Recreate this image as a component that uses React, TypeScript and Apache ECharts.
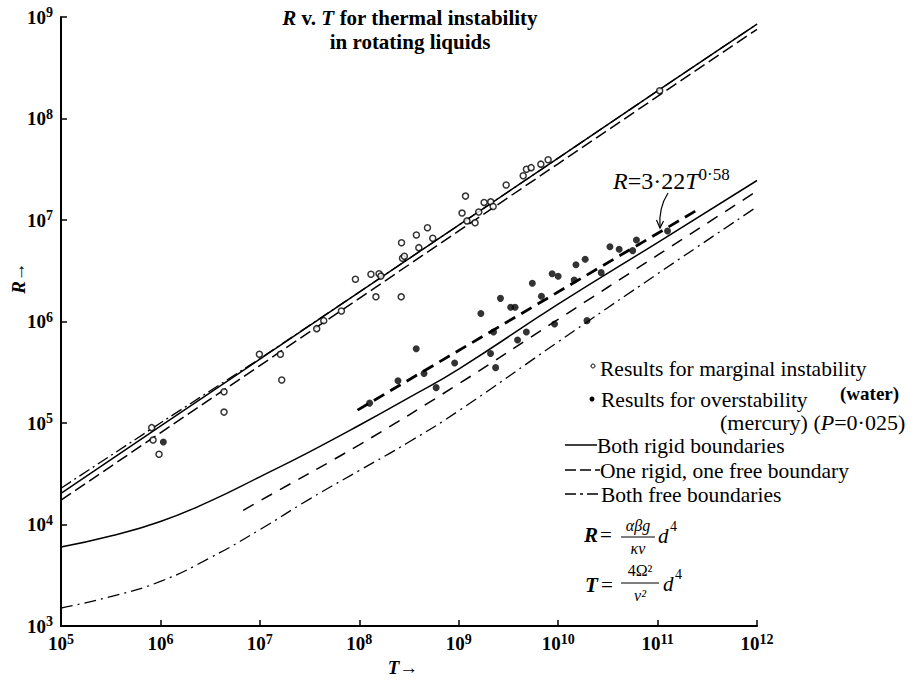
import React, { useEffect, useRef } from 'react';
import * as echarts from 'echarts';

const SERIF = 'Liberation Serif';

// ---- Theory curves ----
// Marginal instability (upper group)
const upperT = [1e5, 1e6, 1e7, 1e8, 1e9, 1e10, 1e11, 1e12];
const upperRigidR = [2.03e4, 9.3e4, 4.25e5, 1.95e6, 8.9e6, 4.07e7, 1.87e8, 8.53e8];
const upperOneFreeR = [1.74e4, 8.0e4, 3.68e5, 1.69e6, 7.8e6, 3.58e7, 1.65e8, 7.57e8];
const upperFreeR = [2.28e4, 1.0e5, 4.3e5, 1.95e6, 8.9e6, 4.07e7, 1.87e8, 8.53e8];

// Overstability (lower group)
const lowerRigidT = [1e5, 3.16e5, 1e6, 3.16e6, 1e7, 3.16e7, 1e8, 3.16e8, 1e9, 1e10, 1e11, 1e12];
const lowerRigidR = [6.0e3, 7.7e3, 1.07e4, 1.7e4, 2.95e4, 5.2e4, 9.5e4, 1.78e5, 3.4e5, 1.48e6, 6.0e6, 2.45e7];
const lowerOneFreeT = [6.8e6, 1e7, 1e8, 1e9, 1e10, 1e11, 1e12];
const lowerOneFreeR = [1.38e4, 1.71e4, 6.1e4, 2.43e5, 1.05e6, 4.5e6, 1.93e7];
const lowerFreeT = [1e5, 3.16e5, 1e6, 3.16e6, 1e7, 3.16e7, 1e8, 3.16e8, 1e9, 1e10, 1e11, 1e12];
const lowerFreeR = [1.5e3, 1.95e3, 2.75e3, 4.7e3, 8.9e3, 1.78e4, 3.4e4, 6.5e4, 1.32e5, 6.3e5, 2.95e6, 1.35e7];

const fitT = [9.6e7, 2.56e11];
const fitR = [1.34e5, 1.27e7];

// ---- Experimental results ----
const marginalT = [8.17e5, 8.43e5, 9.68e5, 4.36e6, 4.36e6, 9.89e6, 1.61e7, 1.66e7, 3.73e7, 4.39e7,
  6.61e7, 9.14e7, 1.31e8, 1.47e8, 1.58e8, 1.65e8, 2.64e8, 2.66e8, 2.72e8, 2.84e8,
  3.75e8, 3.97e8, 4.85e8, 5.48e8, 1.08e9, 1.17e9, 1.21e9, 1.46e9, 1.59e9, 1.80e9,
  2.10e9, 2.22e9, 3.0e9, 4.45e9, 4.8e9, 5.35e9, 6.7e9, 7.93e9, 1.05e11];
const marginalR = [9.0e4, 6.8e4, 4.92e4, 2.03e5, 1.28e5, 4.75e5, 4.75e5, 2.65e5, 8.5e5, 1.02e6,
  1.27e6, 2.61e6, 2.92e6, 1.75e6, 2.95e6, 2.8e6, 1.75e6, 5.97e6, 4.2e6, 4.4e6,
  7.12e6, 5.34e6, 8.4e6, 6.6e6, 1.17e7, 1.72e7, 9.8e6, 9.4e6, 1.2e7, 1.49e7,
  1.51e7, 1.36e7, 2.21e7, 2.73e7, 3.16e7, 3.28e7, 3.55e7, 3.92e7, 1.88e8];

const overT = [1.07e6, 1.27e8, 2.45e8, 3.74e8, 4.48e8, 5.93e8, 9.1e8, 1.67e9, 2.09e9, 2.24e9,
  2.35e9, 2.63e9, 3.33e9, 3.69e9, 3.91e9, 4.79e9, 5.5e9, 6.79e9, 8.7e9, 1.0e10,
  9.2e9, 1.45e10, 1.51e10, 1.87e10, 1.95e10, 2.71e10, 3.32e10, 4.11e10, 5.62e10, 6.13e10, 1.26e11];
const overR = [6.5e4, 1.57e5, 2.61e5, 5.38e5, 3.07e5, 2.23e5, 3.9e5, 1.2e6, 4.84e5, 7.88e5,
  3.51e5, 1.69e6, 1.38e6, 1.38e6, 6.58e5, 7.88e5, 2.38e6, 1.77e6, 2.95e6, 2.79e6,
  9.45e5, 2.56e6, 3.62e6, 4.11e6, 1.02e6, 3.03e6, 5.46e6, 5.15e6, 4.99e6, 6.35e6, 7.8e6];

// Axis ranges (decades, labelled 10^n)
const xMin = 1e5, xMax = 1e12, yMin = 1e3, yMax = 1e9;

const zip = (xs: number[], ys: number[]) => xs.map((x, i) => [x, ys[i]]);

export default function App() {
  const ref = useRef<HTMLDivElement>(null);

  useEffect(() => {
    const chart = echarts.init(ref.current!, null, { renderer: 'svg' });

    const line = (name: string, xs: number[], ys: number[], type: any, width = 1.5, smooth: any = false) => ({
      type: 'line', name, data: zip(xs, ys), symbol: 'none', showSymbol: false, smooth,
      lineStyle: { color: '#000', width, type, cap: 'butt' }, silent: true, z: 2,
    });

    const tickRich = {
      b: { fontFamily: SERIF, fontSize: 19, fontWeight: 'bold', color: '#000' },
      s: { fontFamily: SERIF, fontSize: 14, fontWeight: 'bold', color: '#000', padding: [0, 0, 9, 0] },
    };
    const fmt = (v: number) => `{b|10}{s|${Math.round(Math.log10(v))}}`;

    const tok = (size: number, weight = 'normal', style = 'normal', extra: any = {}) => ({
      fontFamily: SERIF, fontSize: size, fontWeight: weight, fontStyle: style, fill: '#000', color: '#000', ...extra,
    });
    const rtext = (x: number, y: number, content: string, rich: any, extra: any = {}) => ({
      type: 'text', x, y, silent: true,
      style: { text: content, rich, textVerticalAlign: 'middle', fontFamily: SERIF, ...extra },
    });
    const txt = (text: string, x: number, y: number, size = 21.5, weight = 'normal', style = 'normal', align = 'left') =>
      rtext(x, y, `{t|${text}}`, { t: tok(size, weight, style) }, { textAlign: align });

    const hline = (x1: number, x2: number, y: number, dash: any = null, w = 1.5) => ({
      type: 'line', silent: true,
      shape: { x1, y1: y, x2, y2: y },
      style: { stroke: '#000', lineWidth: w, lineDash: dash },
    });

    const option: any = {
      animation: false,
      backgroundColor: '#fff',
      textStyle: { fontFamily: SERIF },
      grid: { left: 61, top: 17, width: 696, height: 609, containLabel: false },
      xAxis: {
        type: 'log', logBase: 10, min: xMin, max: xMax,
        axisLine: { show: true, lineStyle: { color: '#000', width: 2 } },
        axisTick: { show: true, inside: true, length: 6, lineStyle: { color: '#000', width: 1.5 } },
        splitLine: { show: false },
        minorTick: { show: false },
        axisLabel: { formatter: fmt, rich: tickRich, margin: 6, showMinLabel: true, showMaxLabel: true },
      },
      yAxis: {
        type: 'log', logBase: 10, min: yMin, max: yMax,
        axisLine: { show: true, lineStyle: { color: '#000', width: 2 } },
        axisTick: { show: true, inside: true, length: 6, lineStyle: { color: '#000', width: 1.5 } },
        splitLine: { show: false },
        axisLabel: { formatter: fmt, rich: tickRich, margin: 8, showMinLabel: true, showMaxLabel: true },
      },
      series: [
        line('upper rigid', upperT, upperRigidR, 'solid', 1.5),
        line('upper one free', upperT, upperOneFreeR, [12, 5], 1.5),
        line('upper free', upperT, upperFreeR, [12, 4, 2, 4], 1.3),
        line('lower rigid', lowerRigidT, lowerRigidR, 'solid', 1.5, 0.5),
        line('lower one free', lowerOneFreeT, lowerOneFreeR, [12, 9], 1.5, 0.4),
        line('lower free', lowerFreeT, lowerFreeR, [12, 5, 2, 5], 1.3, 0.5),
        line('fit', fitT, fitR, [12, 7], 2.8),
        {
          type: 'scatter', name: 'marginal', data: zip(marginalT, marginalR), symbol: 'circle', symbolSize: 6,
          itemStyle: { color: '#fff', borderColor: '#000', borderWidth: 1.5 }, z: 5, silent: true,
        },
        {
          type: 'scatter', name: 'overstability', data: zip(overT, overR), symbol: 'circle', symbolSize: 7,
          itemStyle: { color: '#000' }, z: 5, silent: true,
        },
      ],
      graphic: [
        // Title
        rtext(410, 30,
          '{i|R}{b| v. }{i|T}{b| for thermal instability}\n{b|in rotating liquids}',
          {
            b: tok(21, 'bold', 'normal', { lineHeight: 24 }),
            i: tok(21, 'bold', 'italic', { lineHeight: 24 }),
          },
          { textAlign: 'center' }),
        // Axis names
        { ...txt('R→', 18, 278, 19, 'bold', 'italic', 'center'), rotation: Math.PI / 2 },
        txt('T→', 403, 667, 19, 'bold', 'italic', 'center'),
        // Fit label and arrow
        rtext(613, 181, '{i|R}{n|=3·22}{i|T}{s|0·58}', {
          i: tok(24, 'normal', 'italic'),
          n: tok(24),
          s: tok(17, 'normal', 'normal', { padding: [0, 0, 13, 0] }),
        }),
        {
          type: 'bezierCurve', silent: true,
          shape: { x1: 668, y1: 193, cpx1: 661, cpy1: 204, cpx2: 659, cpy2: 214, x2: 660, y2: 227 },
          style: { stroke: '#000', lineWidth: 1.2, fill: null },
        },
        {
          type: 'polyline', silent: true,
          shape: { points: [[656.5, 220], [660, 228], [663.5, 221]] },
          style: { stroke: '#000', lineWidth: 1.2, fill: null },
        },
        // Legend
        { type: 'circle', silent: true, shape: { cx: 593, cy: 366, r: 2 }, style: { fill: '#fff', stroke: '#000', lineWidth: 1 } },
        txt('Results for marginal instability', 600, 369),
        { type: 'circle', silent: true, shape: { cx: 592, cy: 399, r: 2.5 }, style: { fill: '#000' } },
        txt('Results for overstability', 601, 400),
        txt('(water)', 840, 393, 19, 'bold'),
        rtext(720, 422, '{n|(mercury) (}{i|P}{n|=0·025)}', { n: tok(22), i: tok(22, 'normal', 'italic') }),
        hline(565, 597, 445, null),
        txt('Both rigid boundaries', 597, 446),
        hline(565, 600, 470, [11, 4]),
        txt('One rigid, one free boundary', 600, 471),
        hline(565, 601, 494, [11, 4, 3, 4]),
        txt('Both free boundaries', 601, 495),
        // R formula
        txt('R', 584, 535, 21, 'bold', 'italic'),
        txt('=', 600, 535, 21),
        txt('αβg', 638, 525, 16, 'normal', 'italic', 'center'),
        hline(621, 655, 537, null, 1),
        txt('κν', 638, 548, 16, 'normal', 'italic', 'center'),
        txt('d', 658, 536, 21, 'normal', 'italic'),
        txt('4', 670, 526, 14),
        // T formula
        txt('T', 585, 585, 21, 'bold', 'italic'),
        txt('=', 601, 585, 21),
        txt('4Ω²', 640, 570, 16, 'normal', 'normal', 'center'),
        hline(621, 659, 583, null, 1),
        txt('ν²', 640, 595, 16, 'normal', 'italic', 'center'),
        txt('d', 663, 584, 21, 'normal', 'italic'),
        txt('4', 675, 574, 14),
      ],
    };

    chart.setOption(option);
    return () => chart.dispose();
  }, []);

  return <div ref={ref} style={{ position: 'fixed', left: 0, top: 0, width: 917, height: 681, background: '#fff' }} />;
}
